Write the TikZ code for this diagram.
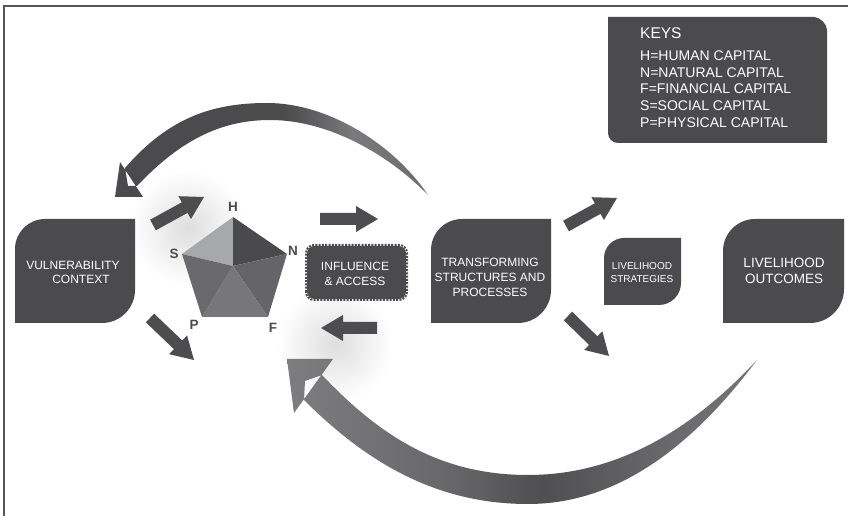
\documentclass[tikz,border=0pt]{standalone}
\usepackage{fontspec}
\setmainfont{Liberation Sans}
\definecolor{dk}{HTML}{4B4B4D}
\definecolor{arrc}{HTML}{4D4D4F}
\definecolor{framec}{HTML}{555555}
\definecolor{pa}{HTML}{A7A8AA}
\definecolor{pb}{HTML}{4A4A4C}
\definecolor{pc}{HTML}{6A6A6C}
\definecolor{pd}{HTML}{77777A}
\definecolor{pe}{HTML}{656567}
\definecolor{arcla}{HTML}{7A7A7C}
\definecolor{arclb}{HTML}{6C6C6E}
\definecolor{baa}{HTML}{7D7D80}
\definecolor{bab}{HTML}{68686B}
\definecolor{bac}{HTML}{4F4F51}
\definecolor{bad}{HTML}{6A6A6C}
\definecolor{bae}{HTML}{747477}
\pgfdeclarehorizontalshading{toparc}{100bp}{color(0bp)=(dk); color(52bp)=(dk); color(63bp)=(arcla); color(75bp)=(arclb); color(100bp)=(arclb)}
\pgfdeclarehorizontalshading{botarc}{100bp}{color(0bp)=(baa); color(25bp)=(baa); color(42bp)=(bab); color(52bp)=(bac); color(66bp)=(bad); color(75bp)=(bae); color(100bp)=(bae)}
\newcommand\leafbox[6]{% x1 ybot x2 ytop rTL rBR
  \fill[dk] (#1,#2) -- (#1,{#4-#5}) .. controls (#1,{#4-0.45*#5}) and ({#1+0.45*#5},#4) .. ({#1+#5},#4)
    -- (#3,#4) -- (#3,{#2+#6}) .. controls (#3,{#2+0.45*#6}) and ({#3-0.45*#6},#2) .. ({#3-#6},#2) -- cycle;}
\newcommand\blockarrow[4]{%
  \pgfmathsetmacro\baang{atan2(#4-#2,#3-#1)}%
  \pgfmathsetmacro\balen{veclen(#3-#1,#4-#2)}%
  \fill[arrc, shift={(#1,#2)}, rotate=\baang] (0,-6) -- ({\balen-22},-6) -- ({\balen-22},-13) -- (\balen,0)
    -- ({\balen-22},13) -- ({\balen-22},6) -- (0,6) -- cycle;}
\begin{document}
\begin{tikzpicture}[x=1pt,y=1pt,
  boxtext/.style={text=white, inner sep=0pt, align=center},
  lbl/.style={text=dk, font=\bfseries\fontsize{13.5}{14}\selectfont, inner sep=0pt},
  keytext/.style={text=white, inner sep=0pt, anchor=west, font=\fontsize{14}{15}\selectfont}]
\useasboundingbox (0,0) rectangle (848,516);
\fill[white] (0,0) rectangle (848,516);
% soft glows
\shade[inner color=black!13, outer color=white] (188,288) circle (58);
\shade[inner color=black!13, outer color=white] (335,172) circle (58);
% frame
\draw[framec, line width=1.3pt] (4,0) -- (4,510) -- (848,510);

% curved arrows
\shade[shading=toparc] (125,348) .. controls (170,400) and (215,413) .. (267,413)
  .. controls (330,413) and (395,370) .. (428,321)
  .. controls (390,360) and (330,396) .. (270,396)
  .. controls (215,396) and (175,370) .. (137,330) -- (128,330) -- cycle
  (120,354) -- (115,319) -- (143,319) -- cycle;
\shade[shading=botarc] (304,116) .. controls (370,50) and (440,12) .. (528,12)
  .. controls (625,12) and (700,80) .. (757,156)
  .. controls (700,95) and (625,41) .. (528,41)
  .. controls (440,41) and (380,80) .. (322,141) -- (305,135) -- cycle
  (287,157) -- (333,157) -- (294,103) -- cycle;

% boxes
\leafbox{15}{193}{135}{297}{30}{33}
\node[boxtext, font=\fontsize{12}{14}\selectfont] (vc) at (73,244) {VULNERABILITY\\\hspace*{16pt}CONTEXT};
\leafbox{431}{193}{551}{297}{31}{33}
\node[boxtext, font=\fontsize{12}{15}\selectfont] (ts) at (490,239) {TRANSFORMING\\STRUCTURES AND\\PROCESSES};
\leafbox{604}{211}{681}{278}{20}{22}
\node[boxtext, font=\fontsize{10}{13}\selectfont] (ls) at (642,243) {LIVELIHOOD\\STRATEGIES};
\leafbox{723}{193}{844}{297}{32}{34}
\node[boxtext, font=\fontsize{13.5}{16}\selectfont] (lo) at (784,245) {LIVELIHOOD\\OUTCOMES};

% influence & access
\fill[dk, rounded corners=7.5pt] (307,217) rectangle (406,270);
\draw[dk, line width=2pt, dash pattern=on 2pt off 1.3pt, rounded corners=8pt] (306,216) rectangle (407,271);
\node[boxtext, font=\fontsize{12}{15}\selectfont] (ia) at (355,242) {INFLUENCE\\\& ACCESS};

% keys
\fill[dk] (608,499) -- (814,499) .. controls (820,499) and (827,492) .. (827,486) -- (827,373)
  -- (618,373) .. controls (612.5,373) and (608,377.5) .. (608,383) -- cycle;
\node[keytext, font=\fontsize{15.5}{16}\selectfont] (k0) at (640,483) {KEYS};
\node[keytext] (k1) at (640,460) {H=HUMAN CAPITAL};
\node[keytext] (k2) at (640,443) {N=NATURAL CAPITAL};
\node[keytext] (k3) at (640,427) {F=FINANCIAL CAPITAL};
\node[keytext] (k4) at (640,410) {S=SOCIAL CAPITAL};
\node[keytext] (k5) at (640,393) {P=PHYSICAL CAPITAL};

% pentagon
\coordinate (H) at (233,299);
\coordinate (N) at (287,262);
\coordinate (F) at (268,199);
\coordinate (P) at (202,199);
\coordinate (S) at (182,262);
\coordinate (C) at (233,250);
\fill[pa] (S) -- (H) -- (C) -- cycle;
\fill[pb] (H) -- (N) -- (C) -- cycle;
\fill[pe] (N) -- (F) -- (C) -- cycle;
\fill[pd] (F) -- (P) -- (C) -- cycle;
\fill[pc] (P) -- (S) -- (C) -- cycle;
\node[lbl] (lH) at (233,309) {H};
\node[lbl] (lN) at (293,265) {N};
\node[lbl] (lF) at (273,188) {F};
\node[lbl] (lP) at (194,191) {P};
\node[lbl] (lS) at (174,262) {S};

% straight block arrows
\blockarrow{153}{291}{204}{319}
\blockarrow{320}{297}{378}{297}
\blockarrow{377}{188}{321}{188}
\blockarrow{150}{198}{194}{156}
\blockarrow{566}{290}{617}{318}
\blockarrow{568}{200}{609}{160}
\end{tikzpicture}
\end{document}
